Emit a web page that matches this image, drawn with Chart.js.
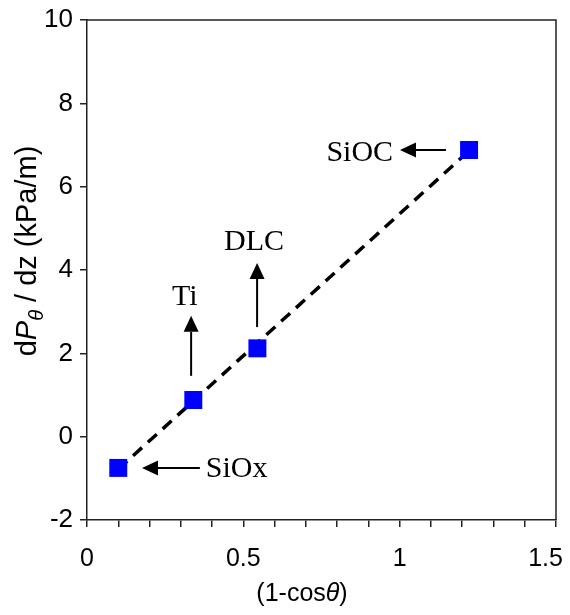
<!DOCTYPE html>
<html>
<head>
<meta charset="utf-8">
<script src="https://cdn.jsdelivr.net/npm/chart.js@4/dist/chart.umd.min.js"></script>
<style>
  body { margin: 0; background: #fff; }
  #wrap { width: 570px; height: 615px; }
</style>
</head>
<body>
<div id="wrap"><canvas id="chart"></canvas></div>
<script>
// data
const materials = ["SiOx", "Ti", "DLC", "SiOC"];
const oneMinusCos = [0.10, 0.34, 0.545, 1.222];
const pressureGradient = [-0.75, 0.88, 2.12, 6.88];

// dashed trend line end points
const trendX = [0.10, 1.222];
const trendY = [-0.78, 6.86];

// axis ticks
const xTickLabels = [0, 0.5, 1, 1.5];
const yTickLabels = [-2, 0, 2, 4, 6, 8, 10];

// arrows + labels, in data units
const notes = [
    { text: materials[0], from: [0.361, -0.75], to: [0.176, -0.75], at: [0.38, -0.97], align: "left" },
    { text: materials[1], from: [0.333, 1.46], to: [0.333, 2.9], at: [0.313, 3.16], align: "center" },
    { text: materials[2], from: [0.544, 2.63], to: [0.544, 4.17], at: [0.534, 4.48], align: "center" },
    { text: materials[3], from: [1.148, 6.88], to: [1.001, 6.88], at: [0.979, 6.62], align: "right" }
];

const sans = "'Liberation Sans', Arial, sans-serif";
const serif = "'Liberation Serif', 'Times New Roman', serif";

const points = oneMinusCos.map((x, i) => ({ x: x, y: pressureGradient[i] }));
const trend = trendX.map((x, i) => ({ x: x, y: trendY[i] }));

const annotate = {
    id: "annotate",
    afterDatasetsDraw(chart) {
        const ctx = chart.ctx;
        const xs = chart.scales.x, ys = chart.scales.y;
        ctx.save();
        ctx.strokeStyle = "#000";
        ctx.fillStyle = "#000";
        ctx.lineWidth = 2;
        notes.forEach(n => {
            const x1 = xs.getPixelForValue(n.from[0]), y1 = ys.getPixelForValue(n.from[1]);
            const x2 = xs.getPixelForValue(n.to[0]), y2 = ys.getPixelForValue(n.to[1]);
            const ang = Math.atan2(y2 - y1, x2 - x1);
            const len = 16, half = 7.5;
            const bx = x2 - len * Math.cos(ang), by = y2 - len * Math.sin(ang);
            ctx.beginPath();
            ctx.moveTo(x1, y1);
            ctx.lineTo(bx, by);
            ctx.stroke();
            ctx.beginPath();
            ctx.moveTo(x2, y2);
            ctx.lineTo(bx + half * Math.sin(ang), by - half * Math.cos(ang));
            ctx.lineTo(bx - half * Math.sin(ang), by + half * Math.cos(ang));
            ctx.closePath();
            ctx.fill();

            ctx.font = "30px " + serif;
            ctx.textAlign = n.align;
            ctx.textBaseline = "alphabetic";
            ctx.fillText(n.text, xs.getPixelForValue(n.at[0]), ys.getPixelForValue(n.at[1]));
        });
        ctx.restore();
    },
    afterDraw(chart) {
        const ctx = chart.ctx;
        const a = chart.chartArea;
        ctx.save();
        // frame top + right
        ctx.strokeStyle = "#222";
        ctx.lineWidth = 1.5;
        ctx.beginPath();
        ctx.moveTo(a.left, a.top);
        ctx.lineTo(a.right, a.top);
        ctx.lineTo(a.right, a.bottom);
        ctx.stroke();

        ctx.fillStyle = "#000";
        ctx.textBaseline = "alphabetic";
        // x title: (1-cosθ)
        const parts = [["(1-cos", "25px " + sans], ["θ", "italic 25px " + sans], [")", "25px " + sans]];
        let w = 0;
        parts.forEach(p => { ctx.font = p[1]; w += ctx.measureText(p[0]).width; });
        let x = 302 - w / 2;
        ctx.textAlign = "left";
        parts.forEach(p => { ctx.font = p[1]; ctx.fillText(p[0], x, 601); x += ctx.measureText(p[0]).width; });

        // y title: dPθ / dz (kPa/m)
        const yp = [["d", "29px " + sans, 0], ["P", "italic 29px " + sans, 0], ["θ", "italic 20px " + sans, 7], [" / dz (kPa/m)", "29px " + sans, 0]];
        ctx.translate(36, 251);
        ctx.rotate(-Math.PI / 2);
        w = 0;
        yp.forEach(p => { ctx.font = p[1]; w += ctx.measureText(p[0]).width; });
        x = -w / 2;
        yp.forEach(p => { ctx.font = p[1]; ctx.fillText(p[0], x, p[2]); x += ctx.measureText(p[0]).width; });
        ctx.restore();
    }
};

new Chart(document.getElementById("chart"), {
    type: "scatter",
    data: {
        datasets: [
            {
                label: "points",
                data: points,
                pointStyle: "rect",
                pointRadius: 12.7,
                pointHoverRadius: 12.7,
                backgroundColor: "#0000ff",
                borderWidth: 0
            },
            {
                label: "trend",
                data: trend,
                showLine: true,
                borderColor: "#000",
                borderWidth: 3.5,
                borderDash: [12, 8],
                pointRadius: 0
            }
        ]
    },
    options: {
        responsive: true,
        maintainAspectRatio: false,
        animation: false,
        layout: { padding: { top: 20, right: 14, left: 0, bottom: 0 } },
        plugins: { legend: { display: false }, tooltip: { enabled: false } },
        scales: {
            x: {
                type: "linear",
                min: 0,
                max: 1.5,
                ticks: {
                    stepSize: 0.1,
                    color: "#000",
                    font: { family: sans, size: 25 },
                    padding: 17,
                    maxRotation: 0,
                    autoSkip: false,
                    callback: v => {
                        const hit = xTickLabels.find(t => Math.abs(t - v) < 1e-6);
                        if (hit === undefined) return "";
                        // last label pulled in so it stays on the page
                        return hit === xTickLabels[xTickLabels.length - 1] ? String(hit) + "   " : String(hit);
                    }
                },
                grid: { drawOnChartArea: false, drawTicks: true, tickLength: 7, color: "#222", lineWidth: 1.5 },
                border: { display: true, color: "#222", width: 1.5 },
                afterFit: s => { s.height = 95; s.paddingLeft = 0; s.paddingRight = 0; }
            },
            y: {
                type: "linear",
                min: yTickLabels[0],
                max: yTickLabels[yTickLabels.length - 1],
                ticks: {
                    stepSize: 2,
                    color: "#000",
                    font: { family: sans, size: 26 },
                    padding: 7
                },
                grid: { drawOnChartArea: false, drawTicks: true, tickLength: 7, color: "#222", lineWidth: 1.5 },
                border: { display: true, color: "#222", width: 1.5 },
                afterFit: s => { s.width = 87; s.paddingTop = 0; s.paddingBottom = 0; }
            }
        }
    },
    plugins: [annotate]
});
</script>
</body>
</html>
